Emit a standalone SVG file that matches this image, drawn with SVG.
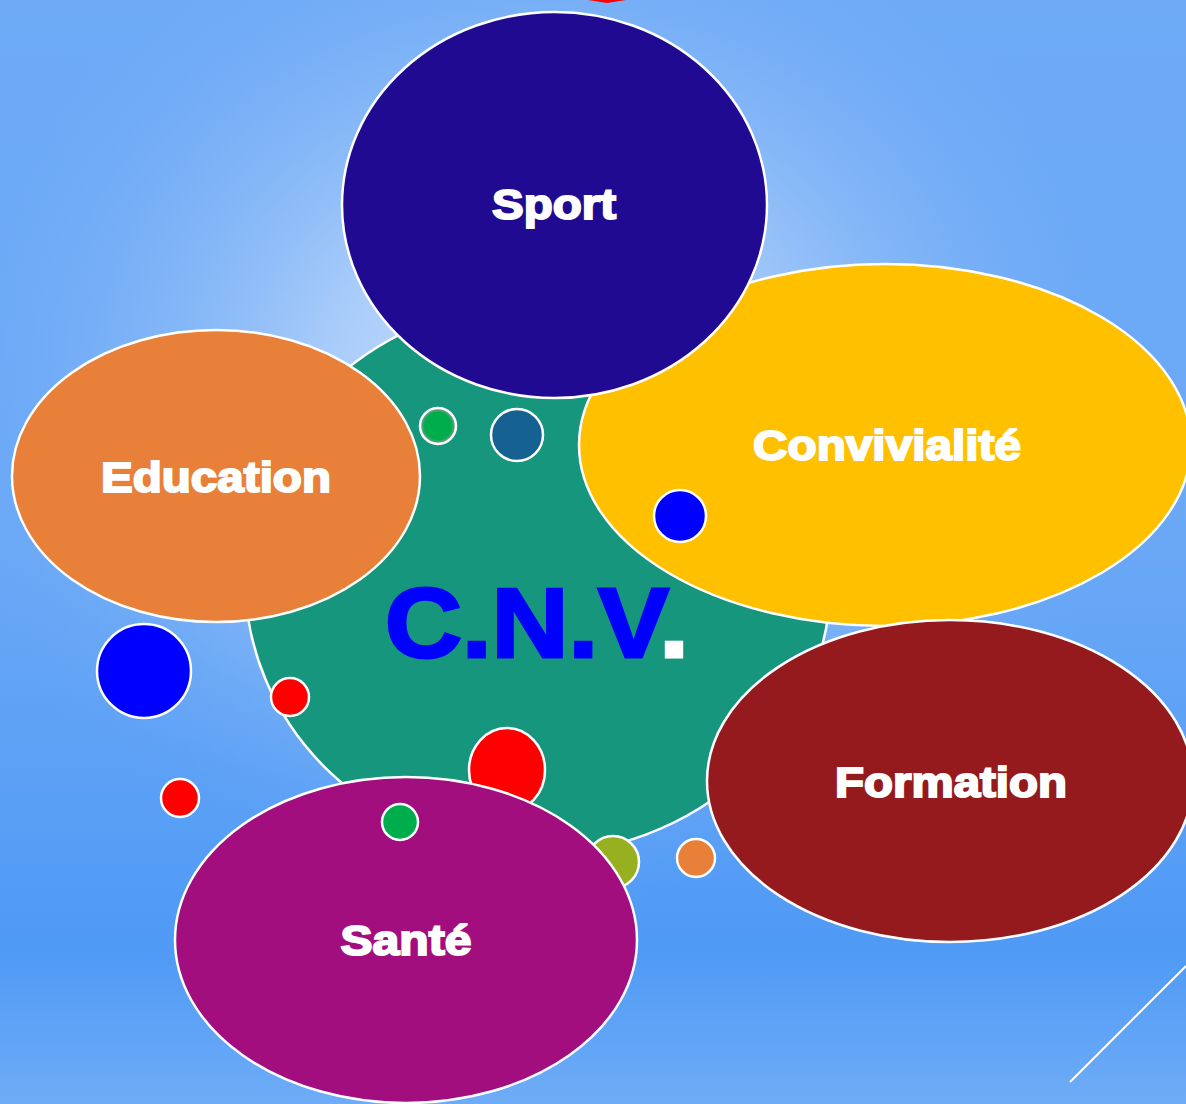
<svg xmlns="http://www.w3.org/2000/svg" width="1186" height="1104" viewBox="0 0 1186 1104">
<defs>
<linearGradient id="bgv" x1="0" y1="0" x2="0" y2="1">
<stop offset="0" stop-color="#6eaaf6"/>
<stop offset="0.5" stop-color="#6aa8f6"/>
<stop offset="0.86" stop-color="#4f9af5"/>
<stop offset="1" stop-color="#6eacf7"/>
</linearGradient>
<radialGradient id="glow" cx="0" cy="0" r="1" gradientUnits="userSpaceOnUse" gradientTransform="translate(540 380) scale(620 520)">
<stop offset="0" stop-color="#d2e5fc" stop-opacity="1"/>
<stop offset="0.35" stop-color="#aecffa" stop-opacity="0.9"/>
<stop offset="0.7" stop-color="#86b8f7" stop-opacity="0.5"/>
<stop offset="1" stop-color="#6aa8f6" stop-opacity="0"/>
</radialGradient>
<radialGradient id="gring" cx="0.5" cy="0.5" r="0.5">
<stop offset="0.75" stop-color="#00ad4c"/>
<stop offset="1" stop-color="#9a9a9a"/>
</radialGradient>
</defs>
<style>
.n{stroke:#ffffff;stroke-width:2.5}
.d{stroke:#ffffff;stroke-width:2.5}
.lbl{font-family:"Liberation Sans",Arial,sans-serif;font-weight:bold;font-size:43px;fill:#ffffff;stroke:#ffffff;stroke-width:2;text-anchor:middle}
.cnv{font-family:"Liberation Sans",Arial,sans-serif;font-weight:bold;font-size:98px;stroke-width:3}
</style>
<rect width="1186" height="1104" fill="url(#bgv)"/>
<rect width="1186" height="1104" fill="url(#glow)"/>
<polygon points="588,0 626,0 607,3" fill="#ff0000"/>
<line x1="1070" y1="1082" x2="1186" y2="966" stroke="#ffffff" stroke-width="2"/>

<g id="cnv">
<ellipse cx="538" cy="578" rx="293" ry="276" fill="#16967d" class="n"/>
</g>
<g id="dots-under">
<ellipse cx="507" cy="770" rx="38" ry="42" fill="#ff0000" class="d"/>
<circle cx="613" cy="862" r="26" fill="#97b020" class="d"/>
</g>
<g id="education">
<ellipse cx="216" cy="476" rx="204" ry="146" fill="#e8803a" class="n"/>
<text x="216" y="492" class="lbl" textLength="230" lengthAdjust="spacingAndGlyphs">Education</text>
</g>
<g id="convivialite">
<ellipse cx="885" cy="445" rx="306" ry="181" fill="#ffc000" class="n"/>
<text x="887" y="460" class="lbl" textLength="268" lengthAdjust="spacingAndGlyphs">Convivialité</text>
</g>
<g id="sport">
<ellipse cx="554.5" cy="205" rx="212.5" ry="193" fill="#200a92" class="n"/>
<text x="554" y="219" class="lbl" textLength="124" lengthAdjust="spacingAndGlyphs">Sport</text>
</g>
<g id="formation">
<ellipse cx="950" cy="781" rx="243" ry="161" fill="#941a1d" class="n"/>
<text x="951" y="797" class="lbl" textLength="232" lengthAdjust="spacingAndGlyphs">Formation</text>
</g>
<g id="sante">
<ellipse cx="406" cy="940" rx="231" ry="163" fill="#a30e7f" class="n"/>
<text x="406" y="955" class="lbl" textLength="131" lengthAdjust="spacingAndGlyphs">Santé</text>
</g>
<g id="dots">
<circle cx="438" cy="426" r="18" fill="url(#gring)" class="d"/>
<circle cx="517" cy="435" r="26" fill="#156191" class="d"/>
<circle cx="680" cy="516" r="26" fill="#0000ff" class="d"/>
<circle cx="144" cy="671" r="47" fill="#0000ff" class="d"/>
<circle cx="290" cy="697" r="19" fill="#ff0000" class="d"/>
<circle cx="180" cy="798" r="19" fill="#ff0000" class="d"/>
<circle cx="400" cy="822" r="18" fill="#00ad4c" class="d"/>
<circle cx="696" cy="858" r="19" fill="#e8803a" class="d"/>
</g>
<g id="title">
<text x="385" y="657" class="cnv" textLength="304" lengthAdjust="spacingAndGlyphs"><tspan fill="#0000ff" stroke="#0000ff">C.N.V</tspan><tspan fill="#ffffff" stroke="#ffffff">.</tspan></text>
</g>
<g id="connectors"></g>
</svg>
